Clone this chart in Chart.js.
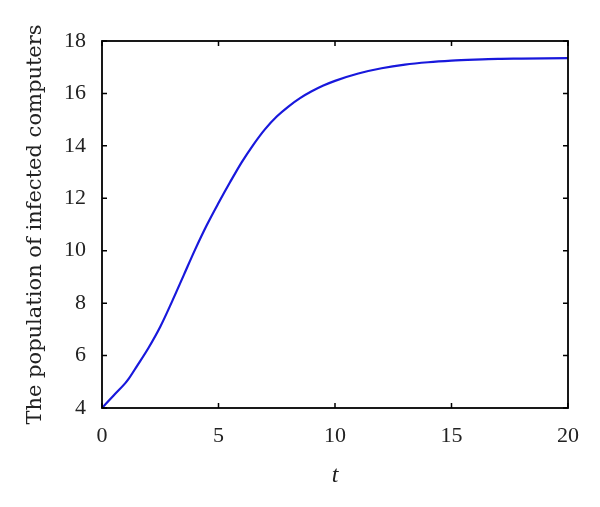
<!DOCTYPE html>
<html lang="en">

<head>
    <meta charset="UTF-8">
    <title>The population of infected computers</title>
    <script src="https://cdn.jsdelivr.net/npm/chart.js"></script>
    <style>
        body { margin: 0; background: #fff; }
        #wrap { width: 600px; height: 507px; }
    </style>
</head>

<body>
    <div id="wrap"><canvas id="infectedChart" width="600" height="507"></canvas></div>
    <script>
        // values
        const tValues = [0, 0.5, 1.0, 1.15, 1.5, 2, 2.5, 3, 3.5, 4, 4.5, 5, 5.5, 6, 6.5, 7, 7.5, 8, 8.5, 9, 9.5, 10, 11, 12, 13, 14, 15, 16, 17, 18, 19, 20];
        const infected = [4.0, 4.48, 4.95, 5.12, 5.6, 6.3, 7.1, 8.05, 9.05, 10.05, 10.98, 11.82, 12.62, 13.38, 14.05, 14.64, 15.12, 15.5, 15.82, 16.08, 16.3, 16.48, 16.76, 16.96, 17.1, 17.19, 17.25, 17.29, 17.32, 17.33, 17.34, 17.35];
        const xTicks = [0, 5, 10, 15, 20];
        const yTicks = [4, 6, 8, 10, 12, 14, 16, 18];

        const serif = '"Liberation Serif", serif';
        const wideSerif = '"DejaVu Serif", serif';

        // frame + inward ticks on all four sides
        const framePlugin = {
            id: 'frame',
            afterDraw(chart) {
                const { ctx, chartArea: a, scales } = chart;
                ctx.save();
                ctx.strokeStyle = '#000';
                ctx.lineWidth = 1.8;
                ctx.strokeRect(a.left, a.top, a.right - a.left, a.bottom - a.top);
                ctx.lineWidth = 1.5;
                ctx.beginPath();
                xTicks.forEach(v => {
                    const px = scales.x.getPixelForValue(v);
                    ctx.moveTo(px, a.bottom); ctx.lineTo(px, a.bottom - 5);
                    ctx.moveTo(px, a.top); ctx.lineTo(px, a.top + 5);
                });
                yTicks.forEach(v => {
                    const py = scales.y.getPixelForValue(v);
                    ctx.moveTo(a.left, py); ctx.lineTo(a.left + 5, py);
                    ctx.moveTo(a.right, py); ctx.lineTo(a.right - 5, py);
                });
                ctx.stroke();
                ctx.restore();
            }
        };

        const ctx = document.getElementById('infectedChart').getContext('2d');
        new Chart(ctx, {
            type: 'line',
            data: {
                datasets: [{
                    data: tValues.map((t, i) => ({ x: t, y: infected[i] })),
                    borderColor: '#1818dc',
                    borderWidth: 2.2,
                    pointRadius: 0,
                    fill: false,
                    cubicInterpolationMode: 'monotone'
                }]
            },
            options: {
                responsive: false,
                animation: false,
                layout: { padding: { left: 23, top: 41, right: 32, bottom: 17 } },
                plugins: {
                    legend: { display: false },
                    tooltip: { enabled: false }
                },
                scales: {
                    x: {
                        type: 'linear',
                        min: 0,
                        max: 20,
                        afterBuildTicks: s => { s.ticks = xTicks.map(v => ({ value: v })); },
                        afterFit: s => { s.height = 82; },
                        grid: { display: false, drawTicks: false },
                        border: { display: false },
                        ticks: { padding: 15, color: '#222', font: { family: serif, size: 22 } },
                        title: {
                            display: true,
                            text: 't',
                            color: '#222',
                            padding: 0,
                            font: { family: serif, size: 24, style: 'italic' }
                        }
                    },
                    y: {
                        min: 4,
                        max: 18,
                        afterBuildTicks: s => { s.ticks = yTicks.map(v => ({ value: v })); },
                        afterFit: s => { s.width = 79; },
                        grid: { display: false, drawTicks: false },
                        border: { display: false },
                        ticks: { padding: 16, color: '#222', font: { family: serif, size: 22 } },
                        title: {
                            display: true,
                            text: 'The population of infected computers',
                            color: '#222',
                            padding: 0,
                            font: { family: wideSerif, size: 21 }
                        }
                    }
                }
            },
            plugins: [framePlugin]
        });
    </script>
</body>

</html>
